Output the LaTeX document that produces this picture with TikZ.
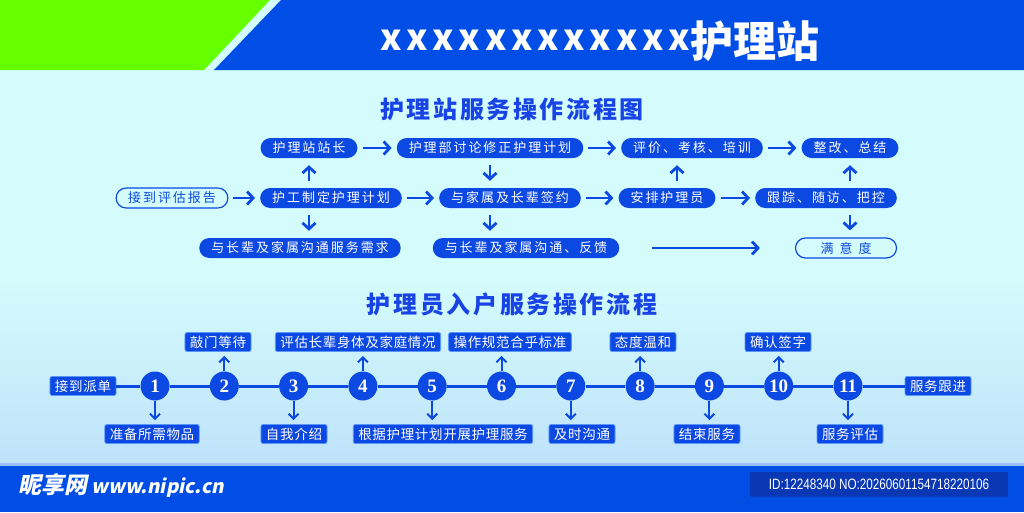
\documentclass[tikz,border=0pt]{standalone}
\usepackage{fontspec}
\newfontfamily\cjk{Noto Sans CJK SC}
\newfontfamily\cjkwide[LetterSpace=15]{Noto Sans CJK SC}
\newfontfamily\cjkhead[LetterSpace=11]{Noto Sans CJK SC}
\newfontfamily\cjkstep[LetterSpace=5]{Noto Sans CJK SC}
\newfontfamily\brandfont[FakeSlant=0.2]{Noto Sans CJK SC}
\newfontfamily\idfont[FakeStretch=0.78]{Liberation Sans}
\newfontfamily\numfont{Liberation Serif}
\usetikzlibrary{arrows.meta}
\definecolor{hdrblue}{RGB}{0,78,230}
\definecolor{leafgreen}{RGB}{102,255,0}
\definecolor{bgtop}{RGB}{212,252,252}
\definecolor{bgbot}{RGB}{190,226,250}
\definecolor{boxblue}{RGB}{12,72,226}
\definecolor{titleblue}{RGB}{24,68,230}
\definecolor{idblue}{RGB}{10,56,180}
\definecolor{edgeblue}{RGB}{90,150,255}
\begin{document}
\begin{tikzpicture}[x=1pt,y=-1pt,
  pill/.style={fill=boxblue,text=white,rounded corners=10pt,minimum height=20pt,
    inner xsep=12pt,inner ysep=0pt,font=\cjkwide\fontsize{13}{13}\selectfont},
  pillout/.style={pill,fill=bgtop,draw=boxblue,line width=1.2pt,text=boxblue},
  flowarr/.style={boxblue,line width=2.8pt,-{Straight Barb[length=6pt,width=13pt]},
    shorten <=5pt,shorten >=5pt},
  tag/.style={fill=boxblue,text=white,draw=edgeblue,line width=0.8pt,rounded corners=2pt,
    minimum height=19pt,inner xsep=5pt,inner ysep=0pt,font=\cjkstep\fontsize{13.5}{13.5}\selectfont},
  stepdot/.style={circle,fill=boxblue,minimum size=29pt,inner sep=0pt,text=white,
    font=\numfont\bfseries\fontsize{19}{19}\selectfont},
  stepline/.style={boxblue,line width=3pt},
  steparr/.style={boxblue,line width=2pt,-{Straight Barb[length=5pt,width=10pt]},shorten >=4pt}]
  \useasboundingbox (0,0) rectangle (1024,512);
  % header and background
  \fill[bgtop] (0,0) rectangle (1024,280);
  \shade[top color=bgtop,bottom color=bgbot] (0,280) rectangle (1024,464);
  \fill[leafgreen] (0,0) -- (270,0) -- (204,70) -- (0,70) -- cycle;
  \fill[hdrblue] (281,0) -- (1024,0) -- (1024,70) -- (214,70) -- cycle;
  \fill[edgeblue!60!white] (0,463) rectangle (1024,466);
  \fill[hdrblue] (0,466) rectangle (1024,512);
  \node[anchor=base west,text=white,inner sep=0pt] (title) at (380,57)
    {\cjk\bfseries\raisebox{7pt}{\fontsize{36}{36}\selectfont\addfontfeature{LetterSpace=13}xxxxxxxxxxxx}\fontsize{43}{43}\selectfont 护理站};
  \node[text=titleblue,font=\cjkhead\bfseries\fontsize{24}{24}\selectfont] (head1) at (512,109) {护理站服务操作流程图};
  \node[text=titleblue,font=\cjkhead\bfseries\fontsize{24}{24}\selectfont] (head2) at (512,304) {护理员入户服务操作流程};

  % station flow chart
  \node[pill] (chief) at (309,148) {护理站站长};
  \node[pill] (revise) at (490,148) {护理部讨论修正护理计划};
  \node[pill] (review) at (692,148) {评价、考核、培训};
  \node[pill] (fix) at (850,148) {整改、总结};
  \node[pillout] (report) at (172,198) {接到评估报告};
  \node[pill] (plan) at (331,198) {护工制定护理计划};
  \node[pill] (sign) at (510,198) {与家属及长辈签约};
  \node[pill] (assign) at (667,198) {安排护理员};
  \node[pill] (track) at (826,198) {跟踪、随访、把控};
  \node[pill] (needs) at (300,248) {与长辈及家属沟通服务需求};
  \node[pill] (reply) at (526,248) {与长辈及家属沟通、反馈};
  \node[pillout,inner xsep=25pt] (satisfy) at (846,248) {满\hspace{6pt}意\hspace{6pt}度};
  \foreach \a/\b in {chief/revise,revise/review,review/fix,report/plan,plan/sign,sign/assign,assign/track}
    \draw[flowarr] (\a) -- (\b);
  \draw[flowarr,shorten <=33pt,shorten >=35pt] (reply) -- (satisfy);
  \draw[flowarr,shorten <=7pt,shorten >=7pt] (plan.north -| chief) -- (chief.south);
  \draw[flowarr,shorten <=7pt,shorten >=7pt] (plan.south -| chief) -- (needs.north -| chief);
  \draw[flowarr,shorten <=7pt,shorten >=7pt] (revise.south) -- (revise.south |- sign.north);
  \draw[flowarr,shorten <=7pt,shorten >=7pt] (revise.south |- sign.south) -- (revise.south |- reply.north);
  \draw[flowarr,shorten <=7pt,shorten >=7pt] ([xshift=10pt]assign.north) -- ([xshift=10pt]assign.north |- review.south);
  \draw[flowarr,shorten <=7pt,shorten >=7pt] (track.north -| fix) -- (fix.south);
  \draw[flowarr,shorten <=7pt,shorten >=7pt] (track.south -| fix) -- (satisfy.north -| fix);

  % home visit steps
  \node[tag] (start) at (83,386) {接到派单};
  \node[tag] (follow) at (938,386) {服务跟进};
  \foreach \i in {1,...,11}
    \node[stepdot] (s\i) at ({155+69.3*(\i-1)},386) {\i};
  \draw[stepline] (start) -- (s1);
  \foreach \i in {1,...,10}{
    \pgfmathtruncatemacro{\j}{\i+1}
    \draw[stepline] (s\i) -- (s\j);
  }
  \draw[stepline] (s11) -- (follow);
  \node[tag] (knock) at (218,342) {敲门等待};
  \node[tag] (assess) at (358,342) {评估长辈身体及家庭情况};
  \node[tag] (norm) at (510,342) {操作规范合乎标准};
  \node[tag] (gentle) at (643,342) {态度温和};
  \node[tag] (confirm) at (778,342) {确认签字};
  \node[tag] (prepare) at (152,434) {准备所需物品};
  \node[tag] (intro) at (294,434) {自我介绍};
  \node[tag] (serve) at (443,434) {根据护理计划开展护理服务};
  \node[tag] (talk) at (582,434) {及时沟通};
  \node[tag] (finish) at (707,434) {结束服务};
  \node[tag] (evaluate) at (850,434) {服务评估};
  \foreach \s/\t in {s2/knock,s4/assess,s6/norm,s8/gentle,s10/confirm}
    \draw[steparr] (\s.north) -- (\s.north |- \t.south);
  \foreach \s/\t in {s1/prepare,s3/intro,s5/serve,s7/talk,s9/finish,s11/evaluate}
    \draw[steparr] (\s.south) -- (\s.south |- \t.north);

  % footer
  \node[anchor=west,text=white,inner sep=0pt] (brand) at (18,486)
    {\brandfont\bfseries\fontsize{23}{23}\selectfont 昵享网\fontsize{19}{19}\selectfont\ www.nipic.cn};
  \node[fill=idblue,text=white,minimum width=258pt,minimum height=25pt,
    font=\idfont\fontsize{15}{15}\selectfont] (idbox) at (879,484.5) {ID:12248340 NO:20260601154718220106};
\end{tikzpicture}
\end{document}
